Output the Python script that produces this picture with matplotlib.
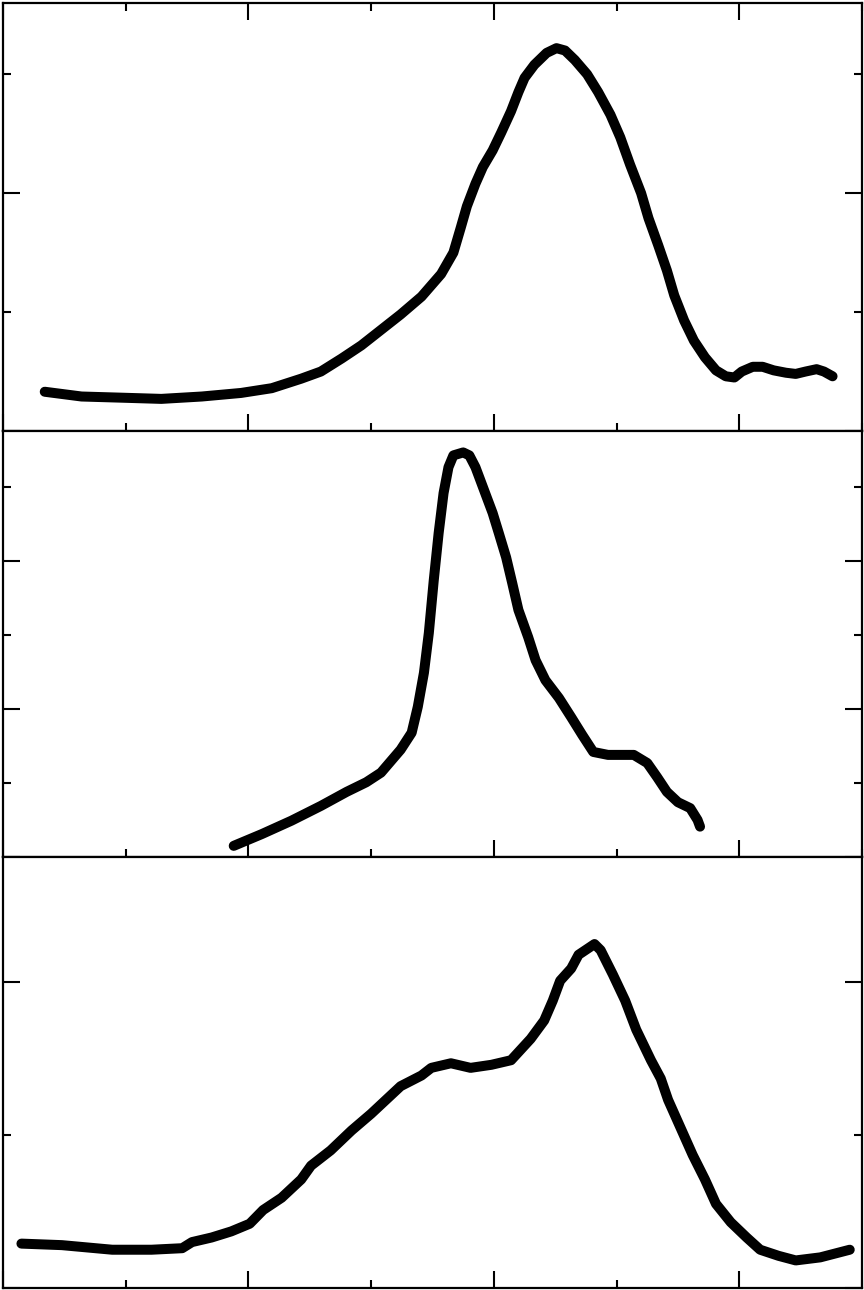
import matplotlib
matplotlib.use('Agg')
import matplotlib.pyplot as plt
from matplotlib.ticker import MultipleLocator, NullFormatter

# top panel
x_top = [0.34, 0.64, 0.97, 1.29, 1.62, 1.94, 2.19, 2.43, 2.59, 2.76, 2.92, 3.08, 3.24, 3.41,
         3.57, 3.67, 3.73, 3.78, 3.85, 3.91, 3.99, 4.06, 4.14, 4.20, 4.25, 4.33, 4.43, 4.51,
         4.58, 4.66, 4.76, 4.85, 4.95, 5.03, 5.11, 5.20, 5.26, 5.34, 5.41, 5.47, 5.55, 5.63,
         5.72, 5.81, 5.89, 5.96, 6.02, 6.11, 6.19, 6.28, 6.38, 6.46, 6.54, 6.63, 6.69, 6.76]
y_top = [0.33, 0.29, 0.28, 0.27, 0.29, 0.32, 0.36, 0.44, 0.50, 0.61, 0.72, 0.85, 0.98, 1.13,
         1.32, 1.50, 1.71, 1.89, 2.08, 2.22, 2.36, 2.51, 2.69, 2.85, 2.97, 3.08, 3.18, 3.22,
         3.20, 3.12, 3.00, 2.85, 2.66, 2.47, 2.24, 2.00, 1.79, 1.56, 1.35, 1.14, 0.93, 0.76,
         0.62, 0.51, 0.46, 0.45, 0.50, 0.54, 0.54, 0.51, 0.49, 0.48, 0.50, 0.52, 0.50, 0.46]

# middle panel
x_mid = [1.88, 2.11, 2.35, 2.59, 2.80, 2.96, 3.08, 3.24, 3.33, 3.38, 3.43, 3.47, 3.51, 3.55,
         3.59, 3.63, 3.67, 3.75, 3.80, 3.85, 3.92, 3.99, 4.04, 4.10, 4.15, 4.20, 4.28, 4.34,
         4.42, 4.53, 4.63, 4.72, 4.81, 4.93, 5.14, 5.25, 5.33, 5.41, 5.50, 5.60, 5.66, 5.68]
y_mid = [0.15, 0.31, 0.49, 0.69, 0.88, 1.01, 1.14, 1.45, 1.68, 2.03, 2.49, 3.03, 3.74, 4.38,
         4.92, 5.27, 5.43, 5.47, 5.43, 5.27, 4.96, 4.65, 4.38, 4.05, 3.70, 3.34, 2.97, 2.66,
         2.39, 2.15, 1.89, 1.65, 1.42, 1.38, 1.38, 1.27, 1.08, 0.88, 0.74, 0.66, 0.50, 0.41]

# bottom panel
x_bot = [0.15, 0.48, 0.89, 1.21, 1.46, 1.54, 1.70, 1.86, 2.01, 2.12, 2.27, 2.43, 2.51, 2.67,
         2.84, 3.00, 3.16, 3.24, 3.41, 3.49, 3.65, 3.81, 3.98, 4.14, 4.22, 4.30, 4.41, 4.48,
         4.54, 4.63, 4.69, 4.82, 4.87, 4.97, 5.07, 5.16, 5.28, 5.36, 5.42, 5.52, 5.62, 5.72,
         5.81, 5.93, 6.06, 6.17, 6.32, 6.46, 6.66, 6.90]
y_bot = [0.29, 0.28, 0.25, 0.25, 0.26, 0.30, 0.33, 0.37, 0.42, 0.51, 0.59, 0.71, 0.80, 0.90,
         1.03, 1.14, 1.26, 1.32, 1.39, 1.44, 1.47, 1.44, 1.46, 1.49, 1.56, 1.63, 1.75, 1.88,
         2.01, 2.09, 2.18, 2.25, 2.21, 2.05, 1.88, 1.69, 1.49, 1.37, 1.23, 1.05, 0.87, 0.71,
         0.55, 0.43, 0.33, 0.25, 0.21, 0.18, 0.20, 0.25]

fig = plt.figure(figsize=(8.64, 12.9), dpi=100)

# axes boxes in figure fractions, ylim per panel
panels = [
    ([0.0035, 0.6659, 0.9942, 0.3318], x_top, y_top, 3.6, True),
    ([0.0035, 0.3357, 0.9942, 0.3302], x_mid, y_mid, 5.76, False),
    ([0.0035, 0.0016, 0.9942, 0.3341], x_bot, y_bot, 2.82, False),
]

for rect, xs, ys, ymax, top_ticks in panels:
    ax = fig.add_axes(rect)
    ax.plot(xs, ys, color='black', lw=7.2, solid_capstyle='round', solid_joinstyle='round')
    ax.set_xlim(0, 7)
    ax.set_ylim(0, ymax)
    ax.xaxis.set_major_locator(MultipleLocator(2))
    ax.xaxis.set_minor_locator(MultipleLocator(1))
    ax.yaxis.set_major_locator(MultipleLocator(2))
    ax.yaxis.set_minor_locator(MultipleLocator(1))
    ax.tick_params(which='both', direction='in', left=True, right=True,
                   top=top_ticks, bottom=True, width=1.5,
                   labelleft=False, labelbottom=False)
    ax.tick_params(which='major', length=12)
    ax.tick_params(which='minor', length=6)
    ax.xaxis.set_minor_formatter(NullFormatter())
    ax.yaxis.set_minor_formatter(NullFormatter())
    for s in ax.spines.values():
        s.set_linewidth(1.6)

fig.savefig('out.png', dpi=100)
